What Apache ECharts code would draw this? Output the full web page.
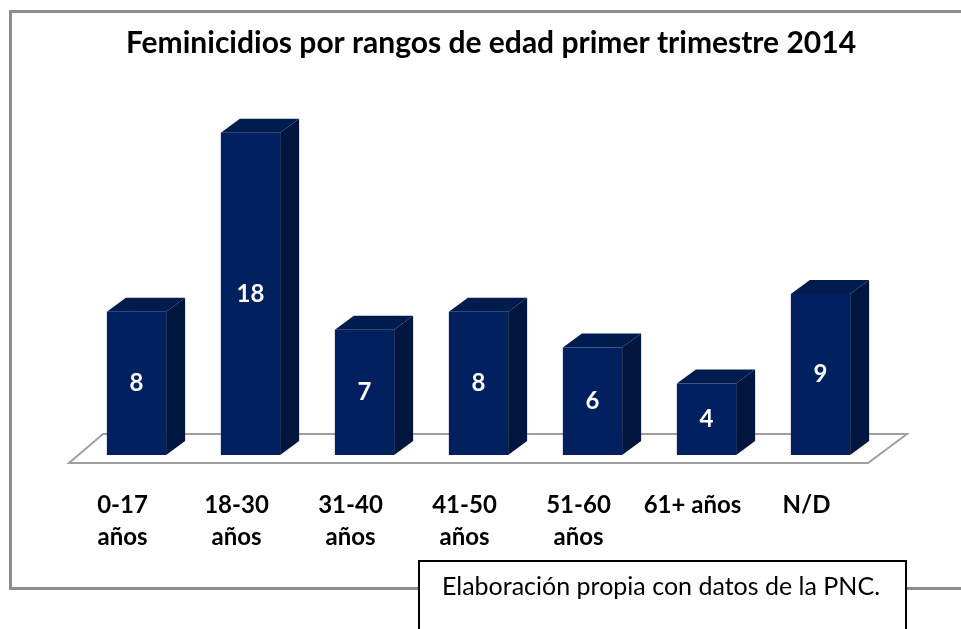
<!DOCTYPE html>
<html>
<head>
<meta charset="utf-8">
<script src="https://cdn.jsdelivr.net/npm/echarts@6/dist/echarts.min.js"></script>
<style>
  html, body { margin: 0; padding: 0; background: #fff; }
  #chart { width: 961px; height: 629px; }
</style>
</head>
<body>
<div id="chart"></div>
<script>
// datos
const categorias = ["0-17\naños", "18-30\naños", "31-40\naños", "41-50\naños", "51-60\naños", "61+ años", "N/D"];
const valores = [8, 18, 7, 8, 6, 4, 9];
const titulo = "Feminicidios por rangos de edad primer trimestre 2014";
const fuente = "Elaboración propia con datos de la PNC.";

const FONT = "Lato, 'Open Sans', sans-serif";
const DX = 19, DY = 14; // profundidad 3D de las barras

const chart = echarts.init(document.getElementById("chart"));

// barra 3D: cara frontal, lateral y superior
const renderBar = (params, api) => {
  const idx = api.value(0);
  const base = api.coord([idx, 0]);
  const top = api.coord([idx, api.value(1)]);
  const band = api.size([1, 0])[0];
  const w = band * 0.52;
  const x0 = base[0] - w / 2, x1 = base[0] + w / 2;
  const y0 = top[1], y1 = base[1];
  return {
    type: "group",
    children: [
      { type: "polygon", shape: { points: [[x1, y1], [x1 + DX, y1 - DY], [x1 + DX, y0 - DY], [x1, y0]] },
        style: { fill: "#00163f" } },
      { type: "polygon", shape: { points: [[x0, y0], [x0 + DX, y0 - DY], [x1 + DX, y0 - DY], [x1, y0]] },
        style: { fill: "#001b4e" } },
      { type: "rect", shape: { x: x0, y: y0, width: w, height: y1 - y0 },
        style: { fill: "#002060" } },
      { type: "text",
        style: { text: String(api.value(1)), x: base[0], y: (y0 + y1) / 2, fill: "#fff",
          font: "bold 24px " + FONT, align: "center", verticalAlign: "middle" } }
    ]
  };
};

// piso del gráfico
const renderFloor = (params) => {
  const cs = params.coordSys;
  const l = cs.x, r = cs.x + cs.width, b = cs.y + cs.height;
  return {
    type: "polygon",
    shape: { points: [[l - 10.5, b + 8], [r - 9.5, b + 8], [r + 29.5, b - 21], [l + 23.5, b - 21]] },
    style: { fill: "#fff", stroke: "#a0a0a0", lineWidth: 2 }
  };
};

const option = {
  animation: false,
  grid: { left: 79.5, right: 83.5, top: 97, bottom: 174 },
  xAxis: {
    type: "category",
    data: categorias,
    axisLine: { show: false },
    axisTick: { show: false },
    axisLabel: {
      interval: 0, margin: 34, color: "#000", fontFamily: FONT, fontWeight: "bold",
      fontSize: 24, lineHeight: 32, padding: [0, 28, 0, 0], verticalAlign: "top"
    }
  },
  yAxis: { type: "value", min: 0, max: 20, show: false },
  graphic: [
    { type: "rect", left: 9, top: 10, z: -10,
      shape: { width: 1000, height: 577 }, style: { fill: "#fff", stroke: "#8c8c8c", lineWidth: 3 } },
    { type: "text", x: 491, y: 43,
      style: { text: titulo, font: "bold 30px " + FONT, fill: "#000", align: "center", verticalAlign: "middle" } },
    { type: "rect", x: 419, y: 561, z: 10,
      shape: { width: 487, height: 100 }, style: { fill: "#fff", stroke: "#000", lineWidth: 2 } },
    { type: "text", x: 661, y: 587, z: 11,
      style: { text: fuente, font: "25px " + FONT, fill: "#000", align: "center", verticalAlign: "middle" } }
  ],
  series: [
    { type: "custom", renderItem: renderFloor, data: [0], z: 1, clip: false },
    { type: "custom", renderItem: renderBar, data: valores.map((v, i) => [i, v]), z: 2, clip: false }
  ]
};

chart.setOption(option);
</script>
</body>
</html>
